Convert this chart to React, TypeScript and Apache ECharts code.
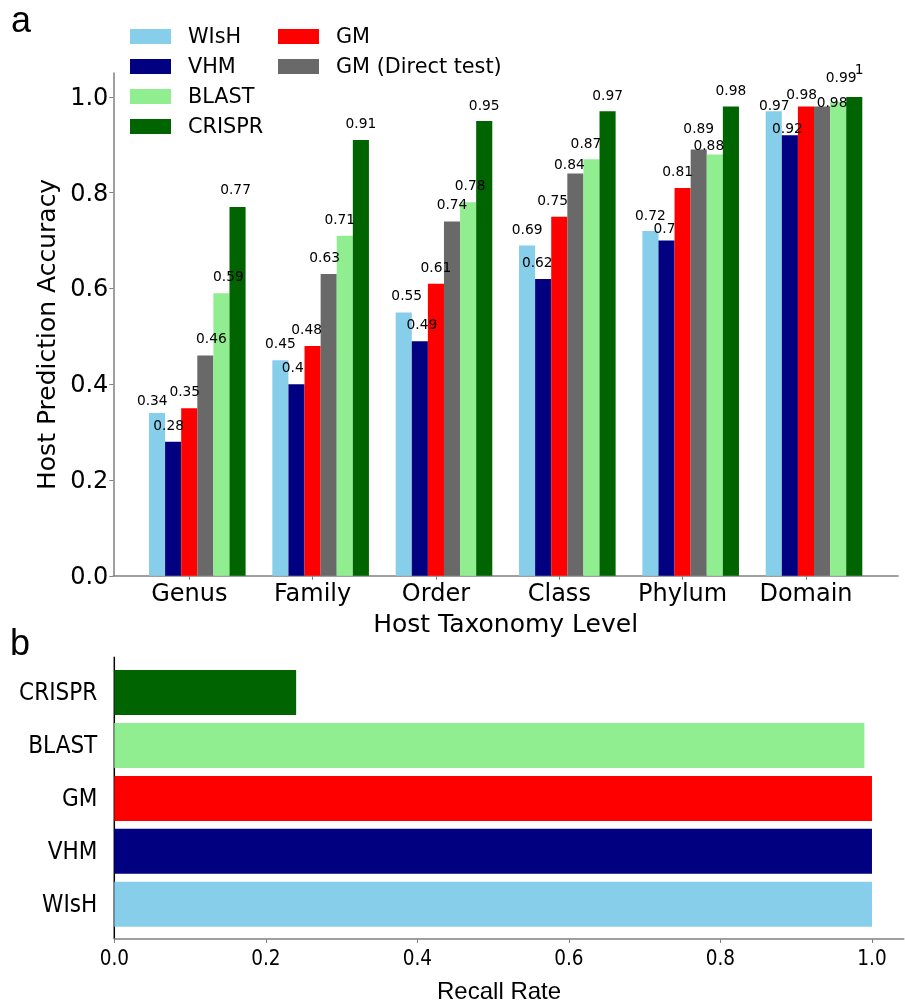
import React, { useEffect, useRef } from 'react';
import * as echarts from 'echarts';

// ---------- data ----------
const levels = ['Genus', 'Family', 'Order', 'Class', 'Phylum', 'Domain'];
const methods = ['WIsH', 'VHM', 'GM', 'GM (Direct test)', 'BLAST', 'CRISPR'];
const wish = [0.34, 0.45, 0.55, 0.69, 0.72, 0.97];
const vhm = [0.28, 0.4, 0.49, 0.62, 0.7, 0.92];
const gm = [0.35, 0.48, 0.61, 0.75, 0.81, 0.98];
const gmDirect = [0.46, 0.63, 0.74, 0.84, 0.89, 0.98];
const blast = [0.59, 0.71, 0.78, 0.87, 0.88, 0.99];
const crispr = [0.77, 0.91, 0.95, 0.97, 0.98, 1];
const accuracyTicks = [0, 0.2, 0.4, 0.6, 0.8, 1.0];

const recallMethods = ['WIsH', 'VHM', 'GM', 'BLAST', 'CRISPR'];
const recallValues = [1.0, 1.0, 1.0, 0.99, 0.24];
const recallTicks = [0, 0.2, 0.4, 0.6, 0.8, 1.0];

// ---------- styles ----------
const colors: Record<string, string> = {
  WIsH: '#87CEEB',
  VHM: '#000080',
  GM: '#FF0000',
  'GM (Direct test)': '#696969',
  BLAST: '#90EE90',
  CRISPR: '#006400',
};
const seriesValues = [wish, vhm, gm, gmDirect, blast, crispr];

// value-label nudges (px): horizontal shift and lift of label centre above bar top
const labelDx = [
  [-4.8, 0, 3, 0, 0, 0.5],
  [-4.5, -3.7, 2, -5.9, -2, -2.5],
  [-4.5, -6, 0, -6.7, -5, -4.3],
  [6, -4, 0, -6, 0, 10],
  [7, -5, 2, -5.5, -6, 3],
  [-2, 0, 0, 0, 0, 5],
];
const labelLift = [
  [12.6, 17, 17, 16.1, 16.2, 6.5],
  [16.7, 17, 17, 16.8, 12.5, 6.8],
  [17.4, 17, 17, 16.3, 16.5, 12.4],
  [17.5, 17, 17, 9.7, 21.2, 4.7],
  [17, 17, 17, 16.6, 9.6, 24.9],
  [18, 16.6, 15.8, 16.5, 16.7, 27.8],
];

const BAR_UNIT = 0.13; // bar width in category units
const DV = 'DejaVu Sans';
const NARROW = '"Liberation Sans Narrow", "DejaVu Sans Condensed", "Liberation Sans", sans-serif';
const AXIS_GRAY = '#808080';

export default function App() {
  const ref = useRef<HTMLDivElement>(null);
  useEffect(() => {
    if (!ref.current) return;
    const chart = echarts.init(ref.current, null, { renderer: 'svg' });

    const barSeries = methods.map((m, k) => ({
      name: m,
      type: 'bar',
      xAxisIndex: 0,
      yAxisIndex: 0,
      barWidth: 16.1,
      barGap: '0%',
      itemStyle: { color: colors[m] },
      data: seriesValues[k].map((v, i) => ({
        value: [i + BAR_UNIT / 2, v],
        label: { offset: [labelDx[k][i], -labelLift[k][i]] },
      })),
      label: {
        show: true,
        position: 'top',
        distance: 0,
        verticalAlign: 'middle',
        fontFamily: DV,
        fontSize: 13.8,
        lineHeight: 11,
        color: '#000',
        formatter: (p: any) => String(p.value[1]),
      },
    }));

    const recallSeries = {
      name: 'recall',
      type: 'bar',
      xAxisIndex: 1,
      yAxisIndex: 1,
      barWidth: 45,
      data: recallValues.map((v, i) => ({ value: v, itemStyle: { color: colors[recallMethods[i]] } })),
    };

    const legendCommon = {
      top: 25.9,
      padding: 0,
      orient: 'vertical',
      itemWidth: 41,
      itemHeight: 15,
      itemGap: 9,
      icon: 'rect',
      selectedMode: false,
      textStyle: { fontFamily: DV, fontSize: 20.8, lineHeight: 21, color: '#000', padding: [0, 0, 0, 12] },
    };

    const option: any = {
      animation: false,
      legend: [
        { ...legendCommon, left: 130, data: ['WIsH', 'VHM', 'BLAST', 'CRISPR'] },
        { ...legendCommon, left: 278, data: ['GM', 'GM (Direct test)'] },
      ],
      grid: [
        { left: 113.3, right: 7, top: 73, height: 502.8 },
        { left: 114.3, right: 1.2, top: 666, height: 264.75 },
      ],
      xAxis: [
        {
          type: 'value',
          gridIndex: 0,
          min: -0.616,
          max: 5.746,
          splitLine: { show: false },
          axisLine: { show: true, onZero: false, lineStyle: { color: AXIS_GRAY, width: 1.5 } },
          axisTick: { show: true, length: 4, customValues: levels.map((_, i) => i), lineStyle: { color: AXIS_GRAY } },
          axisLabel: {
            customValues: levels.map((_, i) => i),
            formatter: (v: number) => levels[Math.round(v)],
            fontFamily: DV,
            fontSize: 24,
            color: '#000',
            margin: 5,
          },
          name: 'Host Taxonomy Level',
          nameLocation: 'middle',
          nameGap: 35,
          nameTextStyle: { fontFamily: DV, fontSize: 25, color: '#000' },
        },
        {
          type: 'value',
          gridIndex: 1,
          min: 0,
          max: 1.042,
          offset: 8.25,
          splitLine: { show: false },
          axisLine: { show: true, onZero: false, lineStyle: { color: AXIS_GRAY, width: 1.5 } },
          axisTick: { show: true, length: 4, customValues: recallTicks, lineStyle: { color: AXIS_GRAY } },
          axisLabel: {
            customValues: recallTicks,
            formatter: (v: number) => v.toFixed(1),
            fontFamily: NARROW,
            fontSize: 20.5,
            color: '#000',
            margin: 8,
          },
          name: 'Recall Rate',
          nameLocation: 'middle',
          nameGap: 39,
          nameTextStyle: { fontFamily: 'Liberation Sans', fontSize: 24, color: '#000', padding: [0, 20, 0, 0] },
        },
      ],
      yAxis: [
        {
          type: 'value',
          gridIndex: 0,
          min: 0,
          max: 1.05,
          splitLine: { show: false },
          axisLine: { show: true, onZero: false, lineStyle: { color: AXIS_GRAY, width: 1.5 } },
          axisTick: { show: true, length: 4, customValues: accuracyTicks, lineStyle: { color: AXIS_GRAY } },
          axisLabel: {
            customValues: accuracyTicks,
            formatter: (v: number) => v.toFixed(1),
            fontFamily: DV,
            fontSize: 24,
            color: '#000',
            margin: 5,
          },
          name: 'Host Prediction Accuracy',
          nameLocation: 'middle',
          nameGap: 48,
          nameTextStyle: { fontFamily: DV, fontSize: 25, color: '#000', padding: [0, 20, 0, 0] },
        },
        {
          type: 'category',
          gridIndex: 1,
          data: recallMethods,
          axisLine: { show: false, onZero: false },
          axisTick: { show: false },
          axisLabel: { fontFamily: NARROW, fontSize: 24, color: '#000', margin: 17 },
        },
      ],
      graphic: [
        { type: 'text', x: 11, y: 19.5, style: { text: 'a', fontFamily: 'Liberation Sans', fontSize: 36, fill: '#000', verticalAlign: 'middle' } },
        { type: 'text', x: 10, y: 642.5, style: { text: 'b', fontFamily: 'Liberation Sans', fontSize: 36, fill: '#000', verticalAlign: 'middle' } },
        { type: 'line', shape: { x1: 114.3, y1: 656.7, x2: 114.3, y2: 939 }, style: { stroke: '#000', lineWidth: 1.5 } },
      ],
      series: [...barSeries, recallSeries],
    };
    chart.setOption(option);
    return () => chart.dispose();
  }, []);
  return <div ref={ref} style={{ position: 'fixed', left: 0, top: 0, width: 905, height: 1004 }} />;
}
